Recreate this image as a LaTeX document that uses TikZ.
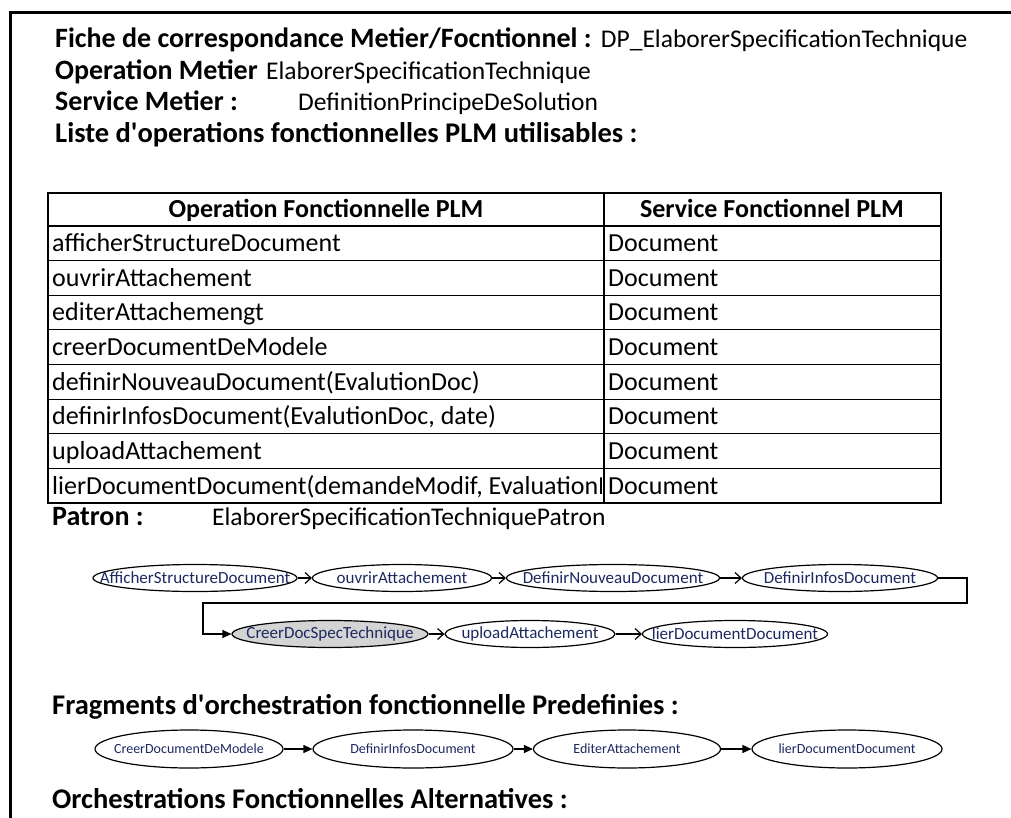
\documentclass[tikz,border=0pt]{standalone}
\usepackage{fontspec}
\setmainfont{Carlito}
\usetikzlibrary{arrows.meta,shapes.geometric}
\definecolor{optext}{RGB}{28,40,96}
\definecolor{patronfill}{RGB}{212,212,212}
% text that does not widen the ellipse round it
\newcommand{\ctr}[1]{\makebox[0pt]{#1}}

\begin{document}
\begin{tikzpicture}[
  x=1pt,
  y=-1pt,
  line/.style={draw=black,line width=1.2pt},
  frame/.style={draw=black,line width=3pt},
  head/.style={anchor=base west,inner sep=0pt,font=\fontsize{28}{32}\selectfont\bfseries},
  bighead/.style={anchor=base west,inner sep=0pt,font=\fontsize{28.5}{33}\selectfont\bfseries},
  plain/.style={anchor=base west,inner sep=0pt,font=\fontsize{25.5}{30}\selectfont},
  cell/.style={anchor=base west,inner sep=0pt,font=\fontsize{26}{30}\selectfont},
  colhead/.style={anchor=base,inner sep=0pt,font=\fontsize{26}{30}\selectfont\bfseries},
  opnode/.style={ellipse,line,inner sep=0pt,minimum height=27,text=optext,
                 font=\fontsize{17}{19}\selectfont},
  fragnode/.style={ellipse,line,inner sep=0pt,minimum height=38,text=optext,
                   font=\fontsize{14}{16}\selectfont},
  barb/.style={line,-{Straight Barb[length=6pt,width=11pt]}},
  tri/.style={line,-{Triangle[length=9pt,width=8pt]}}
]
\useasboundingbox (0,0) rectangle (1011,818);

% ---------------------------------------------------------------- page frame
\draw[frame] (1011,13) -- (10,13) -- (10,818);

% ---------------------------------------------------------------- header lines
\node[head] (fiche) at (55,48) {Fiche de correspondance Metier/Focntionnel :};
\node[plain] (fichename) at ([xshift=9]fiche.base east) {DP\_ElaborerSpecificationTechnique};
\node[head] (opmet) at (55,80) {Operation Metier};
\node[plain] (opmetname) at ([xshift=8]opmet.base east) {ElaborerSpecificationTechnique};
\node[head] (srvmet) at (55,111) {Service Metier :};
\node[plain] (srvmetname) at (298,111) {DefinitionPrincipeDeSolution};
\node[bighead] (liste) at (55,143) {Liste d\textquotesingle operations fonctionnelles PLM utilisables :};

% ---------------------------------------------------------------- table of operations
\draw[line] (48,193) rectangle (941,503);
\draw[line] (604,193) -- (604,503);
\foreach \r in {0,...,7}
  \draw[line] (48,{226+34.625*\r}) -- (941,{226+34.625*\r});
\node[colhead] (hop)  at (326,218) {Operation Fonctionnelle PLM};
\node[colhead] (hsrv) at (772,218) {Service Fonctionnel PLM};
\begin{scope}
  \clip (48,193) rectangle (601,503);
  \foreach \op [count=\r] in {afficherStructureDocument,ouvrirAttachement,editerAttachemengt,
      creerDocumentDeModele,{definirNouveauDocument(EvalutionDoc)},
      {definirInfosDocument(EvalutionDoc, date)},uploadAttachement,
      {lierDocumentDocument(demandeModif, EvaluationDoc)}}
    \node[cell] (op\r) at (52,{226+34.625*\r-9}) {\op};
\end{scope}
\foreach \r in {1,...,8}
  \node[cell] (srv\r) at (608,{226+34.625*\r-9}) {Document};

% ---------------------------------------------------------------- patron
\node[head] (patron) at (52,525) {Patron :};
\node[plain] (patronname) at (212,525) {ElaborerSpecificationTechniquePatron};

\node[opnode,minimum width=204] (afficher) at (195,578) {\ctr{AfficherStructureDocument}};
\node[opnode,minimum width=179] (ouvrir)   at (402,578) {\ctr{ouvrirAttachement}};
\node[opnode,minimum width=213] (nouveau)  at (613,578) {\ctr{DefinirNouveauDocument}};
\node[opnode,minimum width=195] (infos)    at (840,578) {\ctr{DefinirInfosDocument}};
\node[opnode,minimum width=196,fill=patronfill] (creer) at (330,634) {\ctr{CreerDocSpecTechnique}};
\node[opnode,minimum width=170] (upload)   at (530,634) {\ctr{uploadAttachement}};
\node[opnode,minimum width=185] (lier)     at (735,634) {\ctr{lierDocumentDocument}};

\draw[barb] (afficher) -- (ouvrir);
\draw[barb] (ouvrir) -- (nouveau);
\draw[barb] (nouveau) -- (infos);
\coordinate (wrapR) at (967,603);
\coordinate (wrapL) at (203,603);
\draw[tri] (infos.east) -| (wrapR) -- (wrapL) |- (creer.west);
\draw[barb] (creer) -- (upload);
\draw[barb] (upload) -- (lier);

% ---------------------------------------------------------------- predefined fragments
\node[bighead] (frag) at (52,714) {Fragments d\textquotesingle orchestration fonctionnelle Predefinies :};
\node[fragnode,minimum width=188] (fcreer)  at (189,749) {\ctr{CreerDocumentDeModele}};
\node[fragnode,minimum width=200] (finfos)  at (413,749) {\ctr{DefinirInfosDocument}};
\node[fragnode,minimum width=187] (fediter) at (627,749) {\ctr{EditerAttachement}};
\node[fragnode,minimum width=190] (flier)   at (847,749) {\ctr{lierDocumentDocument}};
\draw[tri] (fcreer) -- (finfos);
\draw[tri] (finfos) -- (fediter);
\draw[tri] (fediter) -- (flier);

% ---------------------------------------------------------------- alternatives
\node[bighead] (alt) at (52,808) {Orchestrations Fonctionnelles Alternatives :};

\end{tikzpicture}
\end{document}
